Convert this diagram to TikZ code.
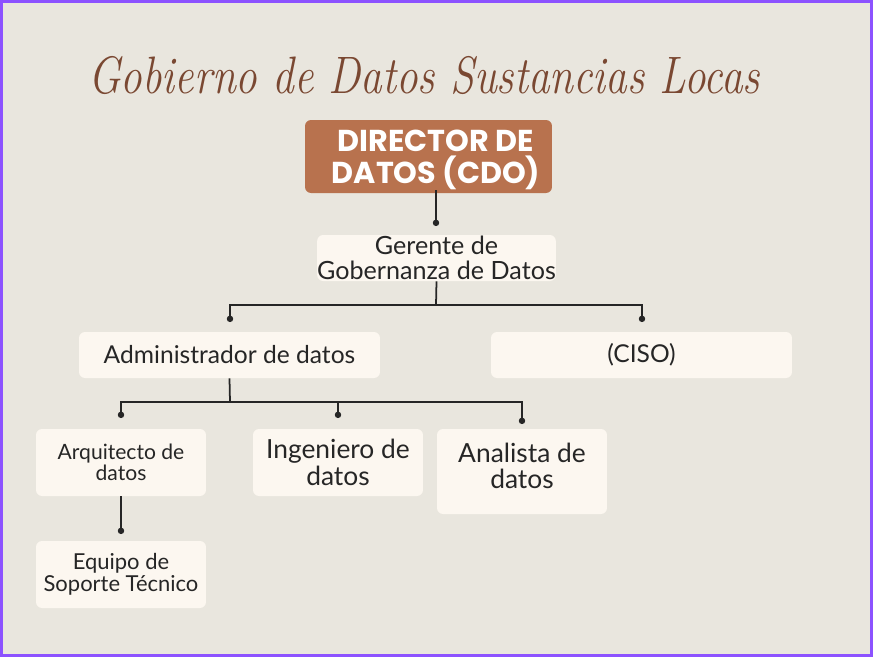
\documentclass[tikz,border=0pt]{standalone}
\usepackage{fontspec}
\usetikzlibrary{arrows.meta}
\newfontfamily\headfont{Poppins}
\newfontfamily\boxfont{Lato}
\definecolor{paper}{RGB}{233,230,222}
\definecolor{cream}{RGB}{252,247,240}
\definecolor{rust}{RGB}{184,114,78}
\definecolor{titlebrown}{RGB}{122,72,50}
\definecolor{ink}{RGB}{38,38,38}
\definecolor{framepurple}{RGB}{140,82,255}

\begin{document}
\begin{tikzpicture}[x=0.02cm, y=-0.02cm,
  box/.style={fill=cream, rounded corners=0.12cm, inner sep=0pt, align=center, text=ink},
  link/.style={draw=ink, line width=1pt},
  dot/.style={link, -{Circle[length=3.6pt]}}]

% Hintergrund und Rahmen
\useasboundingbox (0,0) rectangle (873,657);
\draw[framepurple, fill=paper, line width=1.7pt] (1.5,1.5) rectangle (871.5,655.5);

% Titel
\node[text=titlebrown, font=\fontsize{30}{32}\selectfont\itshape] (title) at (424,75)
  {\scalebox{0.82}[1]{Gobierno de Datos Sustancias Locas}};

% Ebene 1: CDO
\node[fill=rust, rounded corners=0.12cm, minimum width=4.94cm, minimum height=1.46cm] (dir) at (428.5,156.5) {};
\node[text=white, inner sep=0pt, align=center, font=\headfont\bfseries\fontsize{17.2}{18}\selectfont] (dirtxt) at (436,160)
  {DIRECTOR DE\\DATOS (CDO)};

% Ebene 2
\node[box, minimum width=4.62cm, minimum height=0.92cm, font=\boxfont\fontsize{14.3}{14.5}\selectfont] (ger) at (436.5,258)
  {Gerente de\\Gobernanza de Datos};

% Ebene 3
\node[box, minimum width=6.02cm, minimum height=0.92cm, font=\boxfont\fontsize{14}{15}\selectfont] (adm) at (229.5,355) {Administrador de datos};
\node[box, minimum width=6.02cm, minimum height=0.92cm, font=\boxfont\fontsize{14}{15}\selectfont] (ciso) at (641.5,355) {(CISO)};

% Ebene 4
\node[box, minimum width=3.4cm, minimum height=1.34cm, font=\boxfont\fontsize{12}{12}\selectfont] (arq) at (121,462.5) {Arquitecto de\\datos};
\node[box, minimum width=3.4cm, minimum height=1.34cm, font=\boxfont\fontsize{15}{15}\selectfont] (ing) at (338,462.5) {Ingeniero de\\datos};
\node[box, minimum width=3.4cm, minimum height=1.70cm] (ana) at (522,471.5) {};
\node[inner sep=0pt, align=center, text=ink, font=\boxfont\fontsize{15}{15}\selectfont] (anatxt) at (522,466) {Analista de\\datos};

% Ebene 5
\node[box, minimum width=3.4cm, minimum height=1.34cm, font=\boxfont\fontsize{12.5}{12.8}\selectfont] (equ) at (121,574.5) {Equipo de\\Soporte Técnico};

% Verbindungspunkte
\coordinate (e0) at (436,226);
\coordinate (b1) at (436,305);
\coordinate (e1) at (230,322);
\coordinate (e2) at (642,322);
\coordinate (b2) at (230,402);
\coordinate (e3) at (121,418);
\coordinate (e4) at (338,418);
\coordinate (e5) at (522,424);
\coordinate (e6) at (121,534);

% Linien
\draw[dot] (dirtxt.south) -- (e0);
\draw[link] (ger.south) -- (b1);
\draw[dot] (b1) -| (e1);
\draw[dot] (b1) -| (e2);
\draw[link] (adm.south) -- (b2);
\draw[dot] (b2) -| (e3);
\draw[dot] (b2) -| (e4);
\draw[dot] (b2) -| (e5);
\draw[dot] (arq.south) -- (e6);

\end{tikzpicture}
\end{document}
